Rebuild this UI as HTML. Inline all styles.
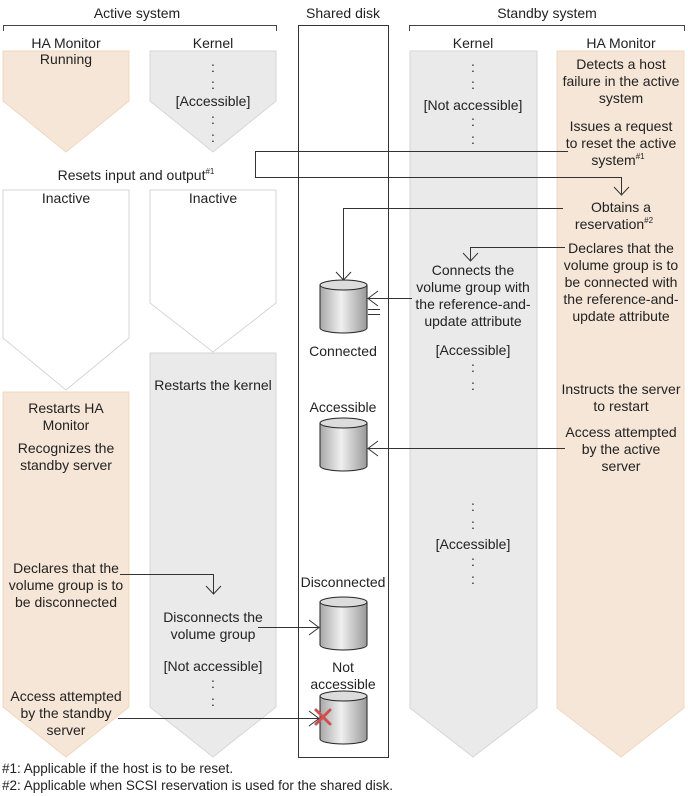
<!DOCTYPE html>
<html><head><meta charset="utf-8"><style>
html,body{margin:0;padding:0;background:#fff;}
svg{display:block;font-family:"Liberation Sans",sans-serif;font-size:14px;fill:#222;}
text{fill:#222;}
</style></head><body>
<svg width="688" height="796" viewBox="0 0 688 796" xmlns="http://www.w3.org/2000/svg">
<defs>
<linearGradient id="cg" x1="0" x2="1" y1="0" y2="0">
<stop offset="0" stop-color="#a8a8a8"/><stop offset="0.45" stop-color="#f0f0f0"/><stop offset="1" stop-color="#999"/>
</linearGradient>
<g id="cyl">
<path d="M0,5 L0,48 A23.5,5 0 0 0 47,48 L47,5" fill="url(#cg)" stroke="#222" stroke-width="1"/>
<ellipse cx="23.5" cy="5" rx="23.5" ry="5" fill="#dcdcdc" stroke="#222" stroke-width="1"/>
</g>
</defs>
<g stroke="#444" fill="none" stroke-width="1">
<path d="M3.5,31 V25.5 H276.5 V31"/>
<path d="M409.5,31 V25.5 H684.5 V31"/>
</g>
<text x="137" y="18" text-anchor="middle">Active system</text>
<text x="343" y="18" text-anchor="middle">Shared disk</text>
<text x="547" y="18" text-anchor="middle">Standby system</text>
<text x="66" y="48" text-anchor="middle">HA Monitor</text>
<text x="213" y="48" text-anchor="middle">Kernel</text>
<text x="473" y="48" text-anchor="middle">Kernel</text>
<text x="621" y="48" text-anchor="middle">HA Monitor</text>

<g stroke-width="1">
<polygon points="3,51 129,51 129,101 66,152 3,101" fill="#f6e6d7" stroke="#f0d7bf"/>
<polygon points="150,51 276,51 276,101 213,152 150,101" fill="#eaeaea" stroke="#d6d6d6"/>
<polygon points="3,190 129,190 129,338 66,390 3,338" fill="#fff" stroke="#d6d6d6"/>
<polygon points="150,190 276,190 276,303 213,352 150,303" fill="#fff" stroke="#d6d6d6"/>
<polygon points="3,392 129,392 129,707 66,757 3,707" fill="#f6e6d7" stroke="#f0d7bf"/>
<polygon points="150,353 276,353 276,707 213,757 150,707" fill="#eaeaea" stroke="#d6d6d6"/>
<polygon points="410,51 537,51 537,708 473,757 410,708" fill="#eaeaea" stroke="#d6d6d6"/>
<polygon points="557,51 684,51 684,708 621,757 557,708" fill="#f6e6d7" stroke="#f0d7bf"/>
</g>
<rect x="298.5" y="25.5" width="90" height="732" fill="none" stroke="#333" stroke-width="1"/>

<use href="#cyl" x="320" y="280"/>
<use href="#cyl" x="320" y="418"/>
<use href="#cyl" x="320" y="597"/>
<use href="#cyl" x="320" y="691"/>
<g stroke="#d05050" stroke-width="3" stroke-linecap="round">
<line x1="316" y1="710" x2="330" y2="724"/><line x1="330" y1="710" x2="316" y2="724"/>
</g>

<g stroke="#333" fill="none" stroke-width="1">
<path d="M568,151.5 H255.5 V177.5 H621.5 V194"/>
<path d="M614,187 L621.5,195 L629,187"/>
<path d="M563,208.5 H343.5 V280"/>
<path d="M336,272 L343.5,280 L351,272"/>
<path d="M565,247.5 H470.5 V261"/>
<path d="M463,253 L470.5,261 L478,253"/>
<path d="M412,298.5 H368"/>
<path d="M378,291 L368,298.5 L378,306"/>
<path d="M368,309.5 H380 M368,314.5 H380"/>
<path d="M565,448.5 H368"/>
<path d="M378,441 L368,448.5 L378,456"/>
<path d="M120,574.5 H213.5 V594"/>
<path d="M206,586 L213.5,594 L221,586"/>
<path d="M258,627.5 H319"/>
<path d="M309,620 L319,627.5 L309,635"/>
<path d="M118,718.5 H319"/>
<path d="M309,711 L319,718.5 L309,726"/>
</g>

<g text-anchor="middle">
<text x="66" y="64">Running</text>
<text x="213" y="72">:</text><text x="213" y="89">:</text>
<text x="213" y="106">[Accessible]</text>
<text x="213" y="124">:</text><text x="213" y="142">:</text>
<text x="136" y="180">Resets input and output<tspan font-size="8" dy="-6">#1</tspan></text>
<text x="66" y="203">Inactive</text>
<text x="213" y="203">Inactive</text>
<text x="213" y="390">Restarts the kernel</text>
<text x="66" y="413">Restarts HA</text>
<text x="66" y="430">Monitor</text>
<text x="66" y="453">Recognizes the</text>
<text x="66" y="470">standby server</text>
<text x="66" y="573">Declares that the</text>
<text x="66" y="590">volume group is to</text>
<text x="66" y="607">be disconnected</text>
<text x="213" y="622">Disconnects the</text>
<text x="213" y="639">volume group</text>
<text x="213" y="671">[Not accessible]</text>
<text x="213" y="688">:</text><text x="213" y="706">:</text>
<text x="66" y="701">Access attempted</text>
<text x="66" y="718">by the standby</text>
<text x="66" y="735">server</text>

<text x="343" y="356">Connected</text>
<text x="343" y="412">Accessible</text>
<text x="343" y="587">Disconnected</text>
<text x="343" y="672">Not</text>
<text x="343" y="689">accessible</text>

<text x="473" y="72">:</text><text x="473" y="89">:</text>
<text x="473" y="110">[Not accessible]</text>
<text x="473" y="126">:</text><text x="473" y="144">:</text>
<text x="473" y="275">Connects the</text>
<text x="473" y="292">volume group with</text>
<text x="473" y="309">the reference-and-</text>
<text x="473" y="326">update attribute</text>
<text x="473" y="355">[Accessible]</text>
<text x="473" y="372">:</text><text x="473" y="390">:</text>
<text x="473" y="511">:</text><text x="473" y="529">:</text>
<text x="473" y="549">[Accessible]</text>
<text x="473" y="566">:</text><text x="473" y="584">:</text>

<text x="621" y="69">Detects a host</text>
<text x="621" y="86">failure in the active</text>
<text x="621" y="103">system</text>
<text x="621" y="131">Issues a request</text>
<text x="621" y="148">to reset the active</text>
<text x="618" y="165">system<tspan font-size="8" dy="-6">#1</tspan></text>
<text x="621" y="212">Obtains a</text>
<text x="614" y="229">reservation<tspan font-size="8" dy="-6">#2</tspan></text>
<text x="621" y="253">Declares that the</text>
<text x="621" y="270">volume group is to</text>
<text x="621" y="287">be connected with</text>
<text x="621" y="304">the reference-and-</text>
<text x="621" y="321">update attribute</text>
<text x="621" y="394">Instructs the server</text>
<text x="621" y="411">to restart</text>
<text x="621" y="437">Access attempted</text>
<text x="621" y="454">by the active</text>
<text x="621" y="471">server</text>
</g>
<text x="2" y="773" font-size="13.5">#1: Applicable if the host is to be reset.</text>
<text x="2" y="790" font-size="13.5">#2: Applicable when SCSI reservation is used for the shared disk.</text>
</svg>
</body></html>
